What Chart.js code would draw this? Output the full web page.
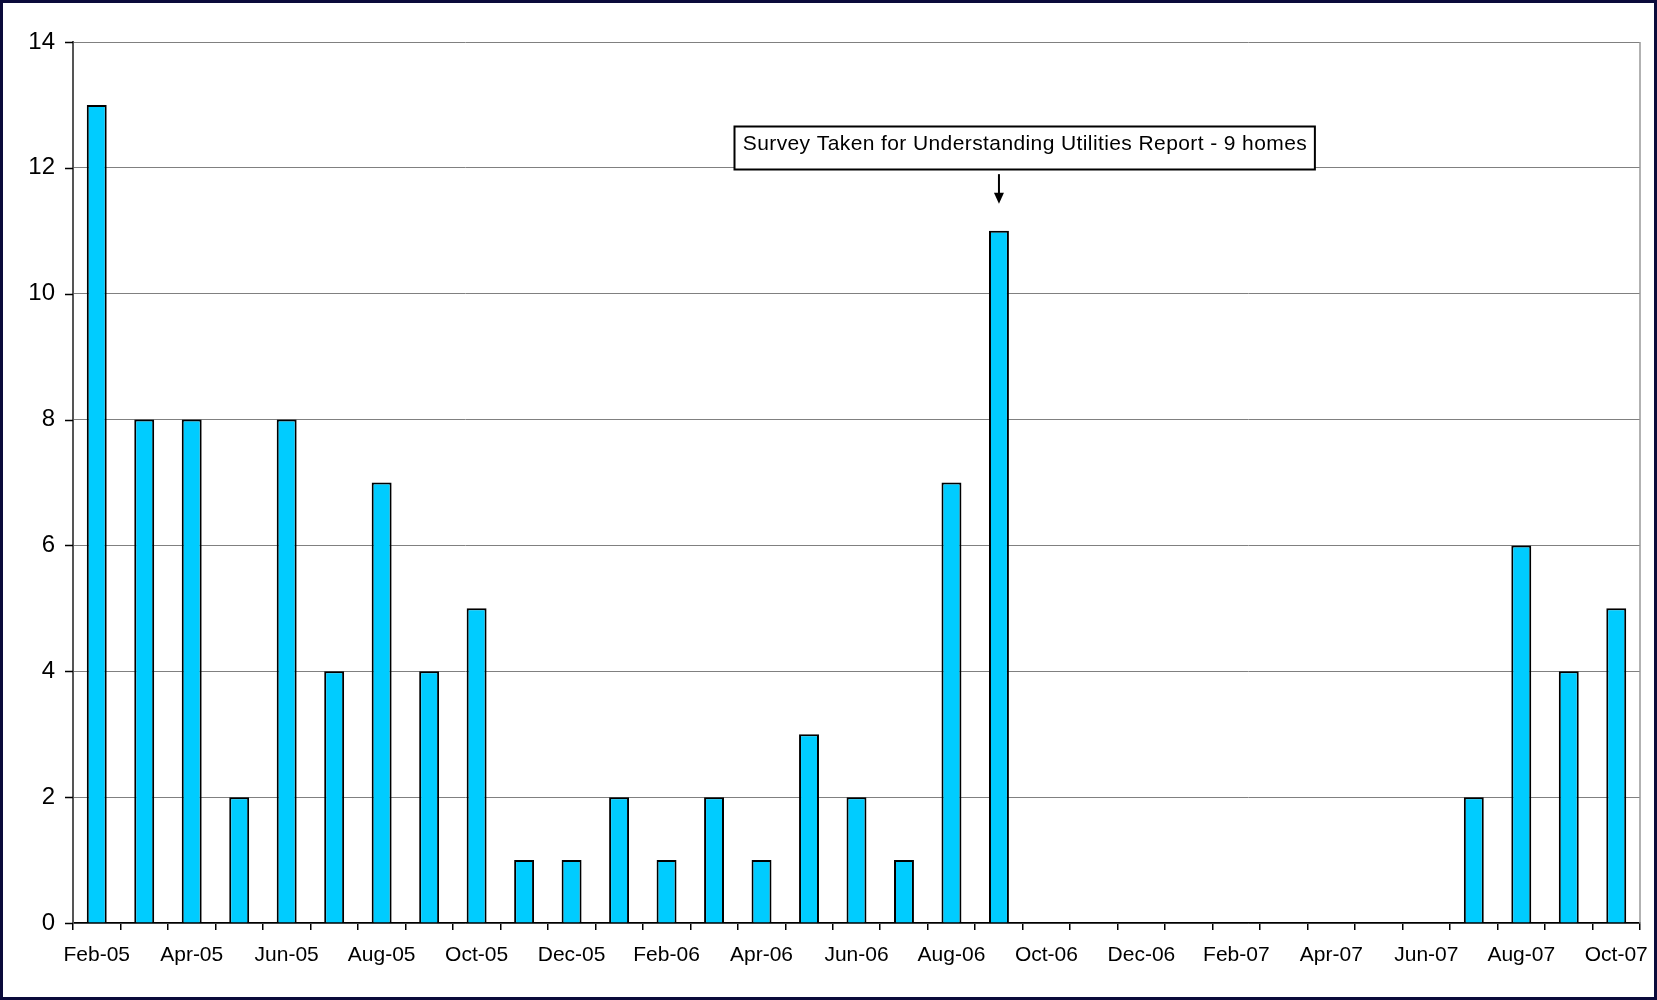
<!DOCTYPE html>
<html>
<head>
<meta charset="utf-8">
<script src="https://cdn.jsdelivr.net/npm/chart.js@4/dist/chart.umd.min.js"></script>
<style>
html, body { margin: 0; padding: 0; background: #fff; }
#wrap { width: 1657px; height: 1000px; position: relative; }
</style>
</head>
<body>
<div id="wrap"><canvas id="grafico"></canvas></div>
<script>
// Meses do gráfico (Feb-05 a Oct-07)
const meses = [
    'Feb-05', 'Mar-05', 'Apr-05', 'May-05', 'Jun-05', 'Jul-05', 'Aug-05', 'Sep-05', 'Oct-05', 'Nov-05', 'Dec-05',
    'Jan-06', 'Feb-06', 'Mar-06', 'Apr-06', 'May-06', 'Jun-06', 'Jul-06', 'Aug-06', 'Sep-06', 'Oct-06', 'Nov-06', 'Dec-06',
    'Jan-07', 'Feb-07', 'Mar-07', 'Apr-07', 'May-07', 'Jun-07', 'Jul-07', 'Aug-07', 'Sep-07', 'Oct-07'
];
// Valores por mês
const valores = [
    13, 8, 8, 2, 8, 4, 7, 4, 5, 1, 1,
    2, 1, 2, 1, 3, 2, 1, 7, 11, 0, 0, 0,
    0, 0, 0, 0, 0, 0, 2, 6, 4, 5
];
// Escala do eixo Y
const eixoYMin = 0;
const eixoYMax = 14;
const eixoYPasso = 2;
// Nota sobre o gráfico
const notaTexto = 'Survey Taken for Understanding Utilities Report - 9 homes';
const notaMes = 'Sep-06';

const fonte = '"Liberation Sans", Arial, sans-serif';

// Plugin para fundo, moldura, marcas do eixo Y e a nota
const extras = {
    id: 'extras',
    beforeDraw(chart) {
        const ctx = chart.ctx;
        ctx.save();
        ctx.fillStyle = '#fff';
        ctx.fillRect(0, 0, chart.width, chart.height);
        ctx.restore();
    },
    afterDraw(chart) {
        const ctx = chart.ctx;
        const a = chart.chartArea;
        const x = chart.scales.x;
        const y = chart.scales.y;
        ctx.save();

        // lado direito da área do gráfico
        ctx.strokeStyle = '#999';
        ctx.lineWidth = 1.5;
        ctx.beginPath();
        ctx.moveTo(a.right, a.top);
        ctx.lineTo(a.right, a.bottom);
        ctx.stroke();

        // marcas do eixo Y
        ctx.strokeStyle = '#000';
        ctx.lineWidth = 1.5;
        ctx.beginPath();
        y.ticks.forEach(function(t) {
            const py = Math.round(y.getPixelForValue(t.value)) + 0.5;
            ctx.moveTo(a.left - 8, py);
            ctx.lineTo(a.left, py);
        });
        ctx.stroke();

        // nota com seta
        const bx = x.getPixelForValue(meses.indexOf(notaMes));
        ctx.font = '21px ' + fonte;
        ctx.letterSpacing = '0.4px';
        const largura = ctx.measureText(notaTexto).width + 16;
        const cx = bx + 25;
        const topo = Math.round(y.getPixelForValue(12.67)) + 0.5;
        const baixo = Math.round(y.getPixelForValue(11.98)) + 0.5;
        const esq = Math.round(cx - largura / 2) + 0.5;
        ctx.fillStyle = '#fff';
        ctx.fillRect(esq, topo, largura, baixo - topo);
        ctx.strokeStyle = '#000';
        ctx.lineWidth = 2;
        ctx.strokeRect(esq, topo, largura, baixo - topo);
        ctx.fillStyle = '#000';
        ctx.textAlign = 'center';
        ctx.textBaseline = 'alphabetic';
        ctx.fillText(notaTexto, cx + 1, topo + 23);

        const s1 = y.getPixelForValue(11.9);
        const s2 = y.getPixelForValue(11.43);
        ctx.lineWidth = 2;
        ctx.beginPath();
        ctx.moveTo(bx, s1);
        ctx.lineTo(bx, s2 - 8);
        ctx.stroke();
        ctx.beginPath();
        ctx.moveTo(bx - 5, s2 - 11);
        ctx.lineTo(bx + 5, s2 - 11);
        ctx.lineTo(bx, s2);
        ctx.closePath();
        ctx.fill();

        // moldura exterior
        ctx.strokeStyle = '#0b0b3b';
        ctx.lineWidth = 3;
        ctx.strokeRect(1.5, 1.5, chart.width - 3, chart.height - 3);
        ctx.restore();
    }
};

new Chart(document.getElementById('grafico'), {
    type: 'bar',
    data: {
        labels: meses,
        datasets: [{
            data: valores,
            backgroundColor: '#00ccff',
            borderColor: '#000',
            borderWidth: 2,
            borderSkipped: 'start',
            barPercentage: 0.42,
            categoryPercentage: 1
        }]
    },
    options: {
        responsive: true,
        maintainAspectRatio: false,
        animation: false,
        layout: { padding: { left: 0, right: 17, top: 42, bottom: 0 } },
        plugins: {
            legend: { display: false },
            tooltip: { enabled: false }
        },
        scales: {
            x: {
                grid: { offset: true, drawOnChartArea: false, drawTicks: true, tickLength: 7, color: '#000', lineWidth: 1.5 },
                border: { color: '#000', width: 1.5 },
                ticks: {
                    autoSkip: false,
                    maxRotation: 0,
                    padding: 13,
                    color: '#000',
                    font: { family: fonte, size: 21 },
                    callback: function(v, i) { return i % 2 === 0 ? meses[i] : ''; }
                },
                afterFit: function(s) { s.height = 77; s.paddingLeft = 0; s.paddingRight = 0; }
            },
            y: {
                min: eixoYMin,
                max: eixoYMax,
                ticks: {
                    stepSize: eixoYPasso,
                    padding: 18,
                    color: '#000',
                    font: { family: fonte, size: 24 }
                },
                grid: { drawTicks: false, color: '#808080', lineWidth: 1 },
                border: { color: '#555', width: 2 },
                afterFit: function(s) { s.width = 73; }
            }
        }
    },
    plugins: [extras]
});
</script>
</body>
</html>
